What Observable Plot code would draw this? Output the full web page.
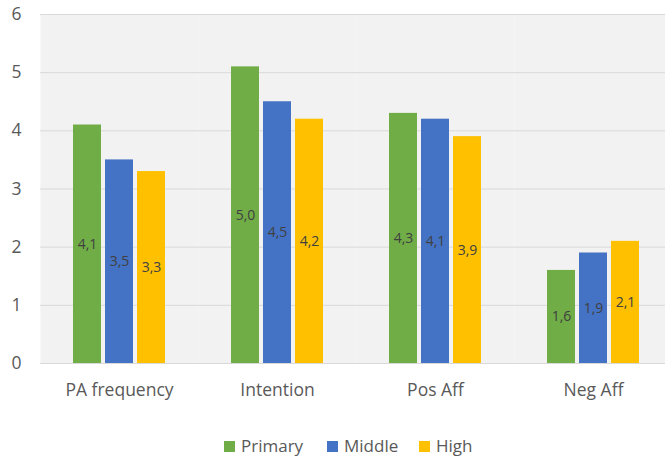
<!DOCTYPE html>
<html>
<head>
<meta charset="utf-8">
<script src="https://cdn.jsdelivr.net/npm/d3@7"></script>
<script src="https://cdn.jsdelivr.net/npm/@observablehq/plot@0.6"></script>
<style>
  html, body { margin: 0; padding: 0; background: #fff; overflow: hidden; }
  #wrap { position: relative; width: 665px; height: 459px; overflow: hidden; font-family: "Open Sans", sans-serif; }
  #chart svg { max-width: none !important; width: 672px !important; height: 410px !important; display: block; }
  #legend { position: absolute; top: 434px; left: 224px; display: flex; font-size: 17px; color: #595959; }
  .item { display: flex; align-items: center; }
  .sw { width: 11px; height: 11px; margin-right: 6px; margin-top: 1px; }
</style>
</head>
<body>
<div id="wrap"><div id="chart"></div><div id="legend"></div></div>
<script>
const categories = ["PA frequency", "Intention", "Pos Aff", "Neg Aff"];
const series = ["Primary", "Middle", "High"];
const colors = ["#70ad47", "#4472c4", "#ffc000"];
const primaryValues = [4.1, 5.1, 4.3, 1.6];
const middleValues = [3.5, 4.5, 4.2, 1.9];
const highValues = [3.3, 4.2, 3.9, 2.1];
const primaryLabels = ["4,1", "5,0", "4,3", "1,6"];
const middleLabels = ["3,5", "4,5", "4,1", "1,9"];
const highLabels = ["3,3", "4,2", "3,9", "2,1"];
const yTicks = [0, 1, 2, 3, 4, 5, 6];

const valuesBySeries = [primaryValues, middleValues, highValues];
const labelsBySeries = [primaryLabels, middleLabels, highLabels];
const data = [];
categories.forEach((c, i) => {
  series.forEach((s, j) => {
    data.push({category: c, series: s, value: valuesBySeries[j][i], label: labelsBySeries[j][i]});
  });
});

const chart = Plot.plot({
  width: 672,
  height: 410,
  marginLeft: 40,
  marginRight: 0,
  marginTop: 14,
  marginBottom: 47,
  style: {fontFamily: "Open Sans", fontSize: "17.5px", color: "#595959", background: "white"},
  fx: {domain: categories, padding: 0, label: null, axis: "bottom", tickSize: 0, tickPadding: 20},
  x: {domain: series, paddingInner: 0.12, paddingOuter: 0.975, axis: null},
  y: {domain: [0, 6], ticks: yTicks, tickSize: 0, tickPadding: 19, label: null, tickFormat: d3.format("d")},
  color: {domain: series, range: colors},
  marks: [
    Plot.frame({fill: "#f2f2f2", stroke: null}),
    Plot.ruleY(yTicks, {stroke: "#d9d9d9", strokeWidth: 1}),
    Plot.barY(data, {fx: "category", x: "series", y: "value", fill: "series"}),
    Plot.text(data, {fx: "category", x: "series", y: d => d.value / 2, text: "label", fill: "#404040", fontSize: 14})
  ]
});
document.getElementById("chart").appendChild(chart);

const legend = document.getElementById("legend");
const itemWidths = [103, 92, 60];
series.forEach((s, j) => {
  const it = document.createElement("div");
  it.className = "item";
  it.style.width = itemWidths[j] + "px";
  const sw = document.createElement("div");
  sw.className = "sw";
  sw.style.background = colors[j];
  const t = document.createElement("span");
  t.textContent = s;
  it.appendChild(sw);
  it.appendChild(t);
  legend.appendChild(it);
});
</script>
</body>
</html>
